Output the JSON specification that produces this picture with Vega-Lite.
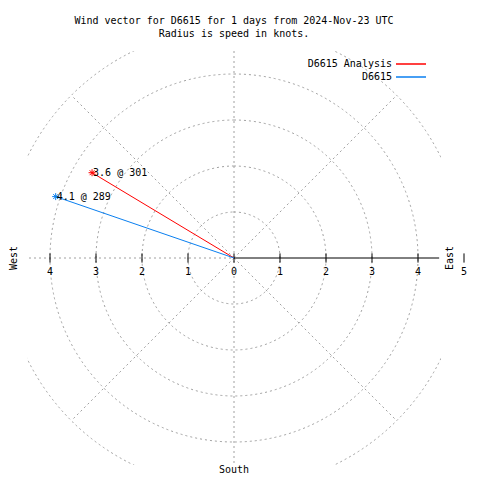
{
  "$schema": "https://vega.github.io/schema/vega-lite/v6.json",
  "width": 414,
  "height": 414,
  "autosize": {"type": "none"},
  "padding": {"left": 27, "top": 51, "right": 39, "bottom": 15},
  "background": "white",
  "config": {
    "view": {"stroke": null},
    "font": "DejaVu Sans Mono",
    "text": {"font": "DejaVu Sans Mono", "fontSize": 10, "color": "black"}
  },
  "title": {
    "text": ["Wind vector for D6615 for 1 days from 2024-Nov-23 UTC", "Radius is speed in knots."],
    "font": "DejaVu Sans Mono",
    "fontSize": 10,
    "fontWeight": "normal",
    "lineHeight": 13,
    "anchor": "middle",
    "color": "black",
    "offset": 12
  },
  "datasets": {
    "circles": [{"r": 1}, {"r": 2}, {"r": 3}, {"r": 4}, {"r": 5}],
    "gridlines": [
      {"x": 0, "y": -5, "x2": 0, "y2": 5},
      {"x": -5, "y": 0, "x2": 0, "y2": 0},
      {"x": 0, "y": 0, "x2": 3.5355, "y2": 3.5355},
      {"x": 0, "y": 0, "x2": -3.5355, "y2": 3.5355},
      {"x": 0, "y": 0, "x2": -3.5355, "y2": -3.5355},
      {"x": 0, "y": 0, "x2": 3.5355, "y2": -3.5355}
    ],
    "axisline": [{"x": 0, "y": 0, "x2": 4.46, "y2": 0}],
    "ticks": [
      {"v": -4, "label": "4"}, {"v": -3, "label": "3"}, {"v": -2, "label": "2"}, {"v": -1, "label": "1"},
      {"v": 0, "label": "0"}, {"v": 1, "label": "1"}, {"v": 2, "label": "2"}, {"v": 3, "label": "3"},
      {"v": 4, "label": "4"}, {"v": 5, "label": "5"}
    ],
    "vectors": [
      {"series": "D6615 Analysis", "speed": 3.6, "dir": 301, "east": -3.0858, "north": 1.8541, "label": "3.6 @ 301"},
      {"series": "D6615", "speed": 4.1, "dir": 289, "east": -3.8766, "north": 1.3348, "label": "4.1 @ 289"}
    ],
    "sides": [
      {"name": "West", "x": -4.78, "y": 0},
      {"name": "East", "x": 4.7, "y": 0}
    ],
    "bottom": [{"name": "South", "x": 0, "y": -4.61}]
  },
  "layer": [
    {
      "data": {"name": "circles"},
      "mark": {"type": "arc", "filled": false, "stroke": "#a0a0a0", "strokeWidth": 1, "strokeDash": [2, 3], "clip": true, "theta": 0, "theta2": 6.2832},
      "encoding": {
        "radius": {"field": "r", "type": "quantitative", "stack": null, "scale": {"type": "linear", "domain": [0, 4.5], "range": [0, 207], "zero": true}}
      }
    },
    {
      "data": {"name": "gridlines"},
      "mark": {"type": "rule", "stroke": "#a0a0a0", "strokeWidth": 1, "strokeDash": [2, 3], "clip": true},
      "encoding": {
        "x": {"field": "x", "type": "quantitative", "scale": {"domain": [-4.5, 4.5], "nice": false, "zero": false}, "axis": null},
        "y": {"field": "y", "type": "quantitative", "scale": {"domain": [-4.5, 4.5], "nice": false, "zero": false}, "axis": null},
        "x2": {"field": "x2"},
        "y2": {"field": "y2"}
      }
    },
    {
      "data": {"name": "axisline"},
      "mark": {"type": "rule", "stroke": "black", "strokeWidth": 1},
      "encoding": {
        "x": {"field": "x", "type": "quantitative"},
        "y": {"field": "y", "type": "quantitative"},
        "x2": {"field": "x2"},
        "y2": {"field": "y2"}
      }
    },
    {
      "data": {"name": "ticks"},
      "mark": {"type": "rule", "stroke": "black", "strokeWidth": 1, "clip": false},
      "encoding": {
        "x": {"field": "v", "type": "quantitative"},
        "y": {"datum": -0.1, "type": "quantitative"},
        "y2": {"datum": 0.1}
      }
    },
    {
      "data": {"name": "ticks"},
      "mark": {"type": "text", "align": "center", "baseline": "middle", "clip": false},
      "encoding": {
        "x": {"field": "v", "type": "quantitative"},
        "y": {"datum": -0.3, "type": "quantitative"},
        "text": {"field": "label"}
      }
    },
    {
      "data": {"name": "vectors"},
      "mark": {"type": "rule", "strokeWidth": 1},
      "encoding": {
        "x": {"field": "east", "type": "quantitative"},
        "y": {"field": "north", "type": "quantitative"},
        "x2": {"datum": 0},
        "y2": {"datum": 0},
        "color": {
          "field": "series",
          "type": "nominal",
          "scale": {"domain": ["D6615 Analysis", "D6615"], "range": ["#ff0000", "#0a7ff0"]},
          "legend": {
            "orient": "none",
            "legendX": 378,
            "legendY": 7,
            "title": null,
            "symbolType": "M-3,0H3",
            "symbolSize": 100,
            "symbolStrokeWidth": 1.5,
            "labelAlign": "right",
            "labelOffset": -25,
            "labelFont": "DejaVu Sans Mono",
            "labelFontSize": 10,
            "labelColor": "black",
            "rowPadding": 2
          }
        }
      }
    },
    {
      "data": {"name": "vectors"},
      "mark": {"type": "point", "shape": "M-1,0L1,0M0,-1L0,1M-0.7,-0.7L0.7,0.7M-0.7,0.7L0.7,-0.7", "filled": false, "size": 49, "strokeWidth": 1, "opacity": 1},
      "encoding": {
        "x": {"field": "east", "type": "quantitative"},
        "y": {"field": "north", "type": "quantitative"},
        "color": {"field": "series", "type": "nominal"}
      }
    },
    {
      "data": {"name": "vectors"},
      "mark": {"type": "text", "align": "left", "baseline": "middle", "dx": 1},
      "encoding": {
        "x": {"field": "east", "type": "quantitative"},
        "y": {"field": "north", "type": "quantitative"},
        "text": {"field": "label"}
      }
    },
    {
      "data": {"name": "sides"},
      "mark": {"type": "text", "align": "center", "baseline": "middle", "angle": 270, "clip": false},
      "encoding": {
        "x": {"field": "x", "type": "quantitative"},
        "y": {"field": "y", "type": "quantitative"},
        "text": {"field": "name"}
      }
    },
    {
      "data": {"name": "bottom"},
      "mark": {"type": "text", "align": "center", "baseline": "middle", "clip": false},
      "encoding": {
        "x": {"field": "x", "type": "quantitative"},
        "y": {"field": "y", "type": "quantitative"},
        "text": {"field": "name"}
      }
    }
  ]
}
